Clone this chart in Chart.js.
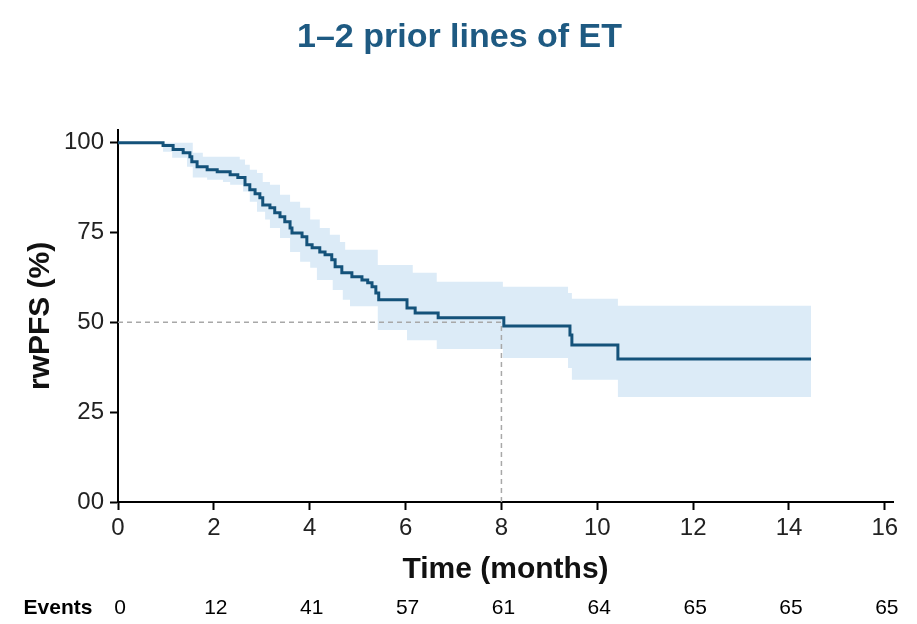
<!DOCTYPE html>
<html>
<head>
<meta charset="utf-8">
<script src="https://cdn.jsdelivr.net/npm/chart.js@4.4.1/dist/chart.umd.min.js"></script>
<style>
html,body{margin:0;padding:0;background:#fff;}
#wrap{width:917px;height:624px;}
</style>
</head>
<body>
<div id="wrap"><canvas id="c" width="917" height="624"></canvas></div>
<script>
// ---- Data ----
const kmTime = [0, 0.94, 1.15, 1.36, 1.50, 1.54, 1.65, 1.86, 2.07, 2.34, 2.50, 2.65, 2.75, 2.86, 2.96, 3.02, 3.17, 3.27, 3.38, 3.48, 3.59, 3.63, 3.84, 3.94, 4.05, 4.21, 4.32, 4.46, 4.53, 4.67, 4.88, 5.09, 5.21, 5.30, 5.38, 5.44, 6.03, 6.20, 6.68, 8.05, 9.43, 9.47, 10.43, 14.46];
const kmSurv = [100, 99.2, 98.1, 97.2, 96.1, 94.7, 93.3, 92.5, 91.9, 91.1, 90.3, 88.3, 86.9, 85.8, 84.7, 82.7, 81.9, 80.5, 79.4, 78.0, 76.3, 74.9, 73.8, 71.6, 70.8, 69.6, 68.8, 67.4, 65.5, 63.8, 62.7, 61.8, 61.0, 59.9, 58.2, 56.3, 54.0, 52.6, 51.3, 49.0, 46.5, 43.7, 39.8, 39.8];

const ciUpperTime = [0, 1.56, 1.77, 2.54, 2.65, 2.75, 2.90, 3.02, 3.17, 3.38, 3.59, 3.80, 4.01, 4.21, 4.42, 4.63, 4.74, 5.42, 6.15, 6.65, 8.03, 9.39, 9.47, 10.43, 14.46];
const ciUpper     = [100, 97.2, 96.1, 95.3, 93.9, 92.5, 91.6, 89.1, 88.3, 85.5, 83.6, 81.9, 78.6, 76.3, 74.4, 72.4, 70.2, 66.0, 63.8, 61.3, 59.9, 58.2, 56.6, 54.6, 54.6];

const ciLowerTime = [0, 0.94, 1.13, 1.44, 1.56, 1.86, 2.19, 2.34, 2.61, 2.75, 2.90, 3.07, 3.17, 3.38, 3.59, 3.80, 4.01, 4.15, 4.48, 4.69, 4.84, 5.42, 6.03, 6.65, 8.03, 9.39, 9.47, 10.43, 14.46];
const ciLower     = [100, 97.5, 95.8, 93.3, 90.3, 89.7, 89.1, 88.3, 86.4, 83.6, 80.8, 78.6, 76.3, 73.5, 69.6, 66.9, 65.2, 61.8, 59.0, 56.3, 54.5, 47.9, 45.0, 42.6, 40.1, 37.3, 34.0, 29.2, 29.2];

const medianTime = 8;
const medianSurv = 50;

const xTicks = [0, 2, 4, 6, 8, 10, 12, 14, 16];
const yTicks = [0, 25, 50, 75, 100];
const yTickLabels = ['00', '25', '50', '75', '100'];
const eventsLabel = 'Events';
const eventsCounts = [0, 12, 41, 57, 61, 64, 65, 65, 65];

const titleText = '1–2 prior lines of ET';
const xTitle = 'Time (months)';
const yTitle = 'rwPFS (%)';

// ---- Build datasets ----
const FONT = "'Liberation Sans', Arial, Helvetica, sans-serif";
function stepAt(times, vals, t) {
  let v = vals[0];
  for (let i = 0; i < times.length; i++) { if (times[i] <= t) v = vals[i]; }
  return v;
}
const bandTimes = Array.from(new Set([...ciUpperTime, ...ciLowerTime])).sort((a, b) => a - b);
const upperPts = bandTimes.map(t => ({x: t, y: stepAt(ciUpperTime, ciUpper, t)}));
const lowerPts = bandTimes.map(t => ({x: t, y: stepAt(ciLowerTime, ciLower, t)}));
const kmPts = kmTime.map((t, i) => ({x: t, y: kmSurv[i]}));
const medianPts = [{x: 0, y: medianSurv}, {x: medianTime, y: medianSurv}, {x: medianTime, y: 0}];

const eventsPlugin = {
  id: 'eventsRow',
  afterDraw(chart) {
    const {ctx, scales: {x}} = chart;
    ctx.save();
    ctx.fillStyle = '#000';
    ctx.textBaseline = 'middle';
    ctx.textAlign = 'center';
    ctx.font = 'bold 21px ' + FONT;
    ctx.fillText(eventsLabel, 58, 608);
    ctx.font = '21px ' + FONT;
    eventsCounts.forEach((n, i) => {
      ctx.fillText(String(n), x.getPixelForValue(xTicks[i]) + 2, 608);
    });
    ctx.restore();
  }
};

new Chart(document.getElementById('c'), {
  type: 'line',
  data: {
    datasets: [
      {label: 'rwPFS', data: kmPts, stepped: 'before', borderColor: '#14527a', borderWidth: 3, pointRadius: 0, fill: false},
      {label: 'Median', data: medianPts, borderColor: '#a8a8a8', borderWidth: 1.5, borderDash: [5, 4], pointRadius: 0, fill: false},
      {label: 'Upper', data: upperPts, stepped: 'before', borderColor: 'rgba(0,0,0,0)', borderWidth: 0, pointRadius: 0, fill: '+1', backgroundColor: '#dcebf7'},
      {label: 'Lower', data: lowerPts, stepped: 'before', borderColor: 'rgba(0,0,0,0)', borderWidth: 0, pointRadius: 0, fill: false}
    ]
  },
  options: {
    responsive: false,
    animation: false,
    devicePixelRatio: 1,
    layout: {padding: {left: 26, right: 24, top: 0, bottom: 37}},
    plugins: {
      legend: {display: false},
      tooltip: {enabled: false},
      title: {
        display: true, text: titleText, color: '#1e5a82',
        font: {family: FONT, size: 34, weight: 'bold', lineHeight: 1.2},
        padding: {top: 17, bottom: 72}
      }
    },
    scales: {
      x: {
        type: 'linear', min: 0, max: 16.17,
        afterBuildTicks: s => { s.ticks = xTicks.map(v => ({value: v})); },
        afterFit: s => { s.height = 85; },
        ticks: {color: '#222', font: {family: FONT, size: 24}, padding: 4, maxRotation: 0, autoSkip: false},
        grid: {drawOnChartArea: false, drawTicks: true, tickLength: 8, tickWidth: 2, tickColor: '#000'},
        border: {color: '#000', width: 2},
        title: {display: true, text: xTitle, color: '#111', font: {family: FONT, size: 30, weight: 'bold', lineHeight: 1}, padding: {top: 0, bottom: 2}}
      },
      y: {
        type: 'linear', min: 0, max: 103.6,
        afterBuildTicks: s => { s.ticks = yTicks.map(v => ({value: v})); },
        afterFit: s => { s.width = 92; },
        ticks: {color: '#222', font: {family: FONT, size: 24}, padding: 6, autoSkip: false,
          callback: (v, i) => yTickLabels[i]},
        grid: {drawOnChartArea: false, drawTicks: true, tickLength: 8, tickWidth: 2, tickColor: '#000'},
        border: {color: '#000', width: 2},
        title: {display: true, text: yTitle, color: '#111', font: {family: FONT, size: 30, weight: 'bold', lineHeight: 1}, padding: {top: 0, bottom: 0}}
      }
    }
  },
  plugins: [eventsPlugin]
});
</script>
</body>
</html>
